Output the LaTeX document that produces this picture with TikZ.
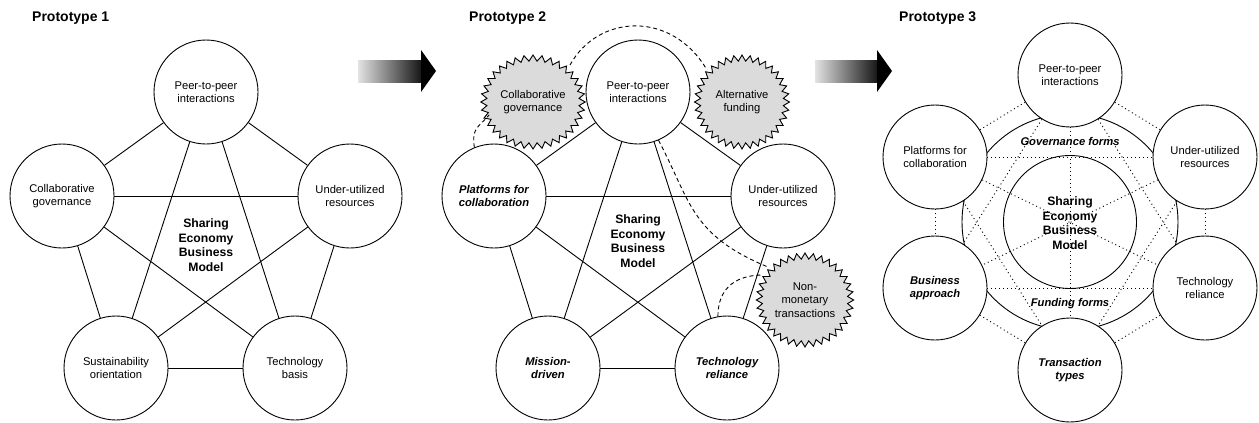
\documentclass[tikz,border=0pt]{standalone}
\usepackage{fontspec}
\setmainfont{Liberation Sans}
\usetikzlibrary{shapes.symbols,calc}
\tikzset{
  nd/.style={circle, draw, fill=white, line width=0.9pt, minimum size=104pt, inner sep=0pt, align=center, font=\fontsize{11.2}{13.4}\selectfont},
  ndi/.style={nd, font=\fontsize{11.2}{13.4}\selectfont\bfseries\itshape},
  ctr/.style={align=center, inner sep=0pt, font=\fontsize{12.2}{14.6}\selectfont\bfseries},
  lbl/.style={inner sep=0pt, font=\fontsize{11.2}{13.4}\selectfont\bfseries\itshape},
  ttl/.style={anchor=base west, inner sep=0pt, font=\fontsize{14}{16}\selectfont\bfseries},
  ln/.style={line width=0.9pt},
  dl/.style={line width=0.9pt, dash pattern=on 4pt off 3pt},
  dt/.style={line width=0.9pt, dash pattern=on 1pt off 3pt},
  sb/.style={starburst, starburst points=36, starburst point height=6pt, random starburst=0, draw, fill=gray!28, line width=0.9pt, minimum width=95pt, minimum height=94pt, inner sep=0pt, align=center, font=\fontsize{11.2}{13.4}\selectfont},
}
\begin{document}
\begin{tikzpicture}[x=1pt, y=-1pt]
\useasboundingbox (0,0) rectangle (1259,423);

% titles
\node[ttl] (t1) at (32,21) {Prototype 1};
\node[ttl] (t2) at (469,21) {Prototype 2};
\node[ttl] (t3) at (899,21) {Prototype 3};

% arrows
\shade[left color=gray!22, right color=black!92] (358,60) rectangle (422,82);
\fill[black] (421,50) -- (436,71) -- (421,92) -- cycle;
\shade[left color=gray!22, right color=black!92] (815,60) rectangle (878,82);
\fill[black] (877,50) -- (892,71) -- (877,92) -- cycle;

% ---------- Prototype 1 ----------
\node[nd] (a1) at (206,92) {Peer-to-peer\\interactions};
\node[nd] (a2) at (62,196) {Collaborative\\governance};
\node[nd] (a3) at (350,196) {Under-utilized\\resources};
\node[nd] (a4) at (116,368) {Sustainability\\orientation};
\node[nd] (a5) at (295,368) {Technology\\basis};
\node[ctr] (ac) at (206,245) {Sharing\\Economy\\Business\\Model};
\foreach \u/\v in {a1/a2,a1/a3,a1/a4,a1/a5,a2/a3,a2/a4,a2/a5,a3/a4,a3/a5,a4/a5}
  \draw[ln] (\u) -- (\v);

% ---------- Prototype 2 ----------
\node[nd] (b1) at (638,92) {Peer-to-peer\\interactions};
\node[ndi] (b2) at (494,196) {Platforms for\\collaboration};
\node[nd] (b3) at (783,196) {Under-utilized\\resources};
\node[ndi] (b4) at (548,368) {Mission-\\driven};
\node[ndi] (b5) at (727,368) {Technology\\reliance};
\node[ctr] (bc) at (638,241) {Sharing\\Economy\\Business\\Model};
\foreach \u/\v in {b1/b2,b1/b3,b1/b4,b1/b5,b2/b3,b2/b4,b2/b5,b3/b4,b3/b5,b4/b5}
  \draw[ln] (\u) -- (\v);
\node[sb] (cg) at (533,102) {Collaborative\\governance};
\node[sb] (af) at (742,102) {Alternative\\funding};
\node[sb] (nm) at (805,300) {Non-\\monetary\\transactions};
\draw[dl] (b2.112) .. controls +(-3pt,20pt) and +(-10pt,-12pt) .. ($(cg.center)+(-44pt,-13pt)$);
\draw[dl] ($(cg.center)+(37pt,37pt)$) .. controls +(28pt,51pt) and +(-35pt,60pt) .. ($(af.center)+(-35pt,32pt)$);
\draw[dl] (b1.-67) .. controls +(32pt,-60pt) and +(-78pt,32pt) .. ($(nm.center)+(-37pt,33pt)$);
\draw[dl] (b5.100) .. controls +(0pt,30pt) and +(-25pt,0pt) .. ($(nm.center)+(-42pt,25pt)$);

% ---------- Prototype 3 ----------
\node[circle, draw, line width=0.9pt, minimum size=216pt, inner sep=0pt] (ring) at (1070,222) {};
\node[circle, draw, line width=0.9pt, minimum size=133pt, inner sep=0pt] (cc) at (1070,222) {};
\node[nd] (c1) at (1070,75) {Peer-to-peer\\interactions};
\node[nd] (c2) at (935,157) {Platforms for\\collaboration};
\node[nd] (c3) at (1205,157) {Under-utilized\\resources};
\node[ndi] (c4) at (935,288) {Business\\approach};
\node[nd] (c5) at (1205,288) {Technology\\reliance};
\node[ndi] (c6) at (1070,370) {Transaction\\types};
\foreach \u/\v in {c1/c2,c1/c3,c1/c4,c1/c5,c1/c6,c2/c3,c2/c4,c2/c5,c2/c6,c3/c4,c3/c5,c3/c6,c4/c5,c4/c6,c5/c6}
  \draw[dt] (\u) -- (\v);
\node[ctr] (ccl) at (1070,223) {Sharing\\Economy\\Business\\Model};
\node[lbl] (gf) at (1070,141) {Governance forms};
\node[lbl] (ff) at (1070,304) {Funding forms};
\end{tikzpicture}
\end{document}
